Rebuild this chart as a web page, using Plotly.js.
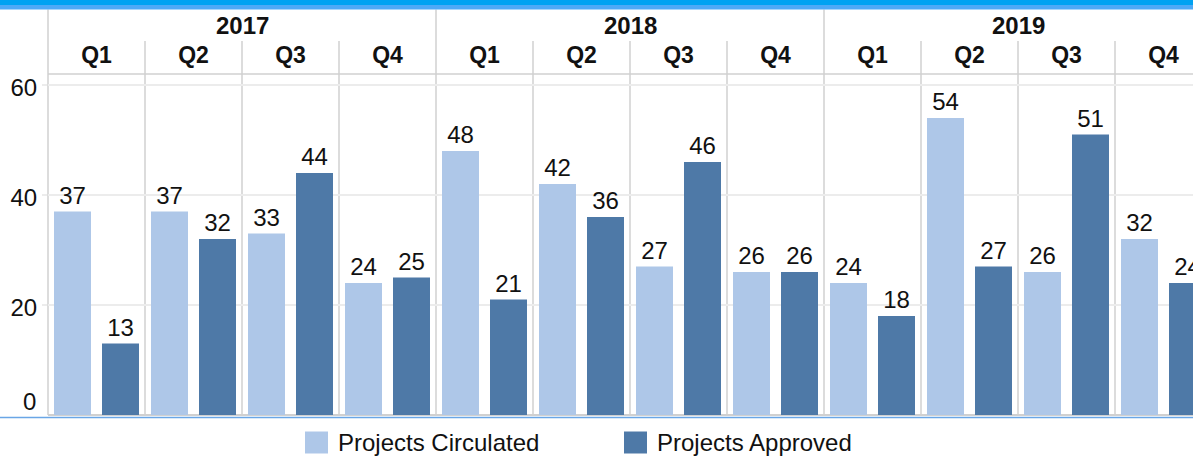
<!DOCTYPE html>
<html>
<head>
<meta charset="utf-8">
<script src="https://cdn.plot.ly/plotly-3.0.1.min.js"></script>
<style>
  html, body { margin: 0; padding: 0; overflow: hidden; background: #fff; }
  #chart { width: 1193px; height: 456px; }
</style>
</head>
<body>
<div id="chart"></div>
<script>
// ---- data ----
const years = ['2017', '2018', '2019'];
const quarters = ['Q1', 'Q2', 'Q3', 'Q4'];
const seriesNames = ['Projects Circulated', 'Projects Approved'];
const circulated = [37, 37, 33, 24, 48, 42, 27, 26, 24, 54, 26, 32];
const approved   = [13, 32, 44, 25, 21, 36, 46, 26, 18, 27, 51, 24];
const yTickVals = [0, 20, 40, 60];
const yTickText = ['0', '20', '40', '60'];

// ---- geometry ----
const W = 1193, H = 456;
const M = { l: 48, r: 0, t: 74, b: 41 };
const plotW = W - M.l - M.r, plotH = H - M.t - M.b;
const catPx = 97;                       // width of one quarter column
const px2x = px => (px - M.l) / plotW;   // pixel -> paper x
const px2y = py => (H - M.b - py) / plotH; // pixel -> paper y

const categories = [];
years.forEach(y => quarters.forEach(q => categories.push(y + ' ' + q)));
const qLabels = categories.map(c => c.split(' ')[1]);

const FONT = "'Liberation Sans', Arial, sans-serif";
const colCirc = '#aec7e8', colAppr = '#4e79a7';
const divColor = '#d0d0d0';

const traces = [
  { type: 'bar', name: seriesNames[0], x: categories, y: circulated,
    marker: { color: colCirc }, text: circulated.map(String), textposition: 'outside',
    constraintext: 'none', textfont: { family: FONT, size: 24, color: '#111' }, hoverinfo: 'x+y+name' },
  { type: 'bar', name: seriesNames[1], x: categories, y: approved,
    marker: { color: colAppr }, text: approved.map(String), textposition: 'outside',
    constraintext: 'none', textfont: { family: FONT, size: 24, color: '#111' }, hoverinfo: 'x+y+name' }
];

const shapes = [];
// top blue band
shapes.push({ type: 'rect', xref: 'paper', yref: 'paper', x0: px2x(0), x1: px2x(W), y0: px2y(5), y1: px2y(0),
  fillcolor: '#00a2f2', line: { width: 0 }, layer: 'above' });
shapes.push({ type: 'rect', xref: 'paper', yref: 'paper', x0: px2x(0), x1: px2x(W), y0: px2y(9.5), y1: px2y(5),
  fillcolor: '#4ea9f7', line: { width: 0 }, layer: 'above' });
// left border of the table
shapes.push({ type: 'line', xref: 'paper', yref: 'paper', x0: 0, x1: 0, y0: 0, y1: px2y(9.5),
  line: { color: divColor, width: 1.5 }, layer: 'below' });
// header bottom line
shapes.push({ type: 'line', xref: 'paper', yref: 'paper', x0: 0, x1: 1, y0: 1, y1: 1,
  line: { color: divColor, width: 1.5 }, layer: 'below' });
// column dividers
for (let i = 1; i <= categories.length; i++) {
  const isYear = i % quarters.length === 0;
  shapes.push({ type: 'line', xref: 'x', yref: 'paper', x0: i - 0.5, x1: i - 0.5, y0: 0,
    y1: isYear ? px2y(9.5) : px2y(41), line: { color: divColor, width: 1.5 }, layer: 'below' });
}
// bottom blue line
shapes.push({ type: 'line', xref: 'paper', yref: 'paper', x0: px2x(0), x1: px2x(W), y0: px2y(417.5), y1: px2y(417.5),
  line: { color: '#6aa6e6', width: 1.5 }, layer: 'above' });
// legend swatches
const legendItems = [
  { name: seriesNames[0], color: colCirc, sx0: 305, sx1: 328, tx: 336 },
  { name: seriesNames[1], color: colAppr, sx0: 624, sx1: 647, tx: 655 }
];
legendItems.forEach(it => {
  shapes.push({ type: 'rect', xref: 'paper', yref: 'paper', x0: px2x(it.sx0), x1: px2x(it.sx1),
    y0: px2y(453.5), y1: px2y(431.5), fillcolor: it.color, line: { width: 0 }, layer: 'above' });
});

const annotations = [];
years.forEach((y, i) => {
  annotations.push({ text: y, xref: 'x', yref: 'paper', x: i * quarters.length + (quarters.length - 1) / 2,
    y: px2y(26), xanchor: 'center', yanchor: 'middle', showarrow: false,
    font: { family: FONT, size: 24, color: '#111', weight: 'bold' } });
});
legendItems.forEach(it => {
  annotations.push({ text: it.name, xref: 'paper', yref: 'paper', x: px2x(it.tx), y: px2y(442.5),
    xanchor: 'left', yanchor: 'middle', showarrow: false,
    font: { family: FONT, size: 24, color: '#111' } });
});
// "0" tick label sits above the baseline
annotations.push({ text: yTickText[0], xref: 'paper', yref: 'y', x: px2x(38), y: yTickVals[0], yshift: 14,
  xanchor: 'right', yanchor: 'middle', showarrow: false, font: { family: FONT, size: 24, color: '#111' } });

const layout = {
  width: W, height: H,
  margin: M,
  paper_bgcolor: '#fff', plot_bgcolor: '#fff',
  font: { family: FONT, color: '#111' },
  showlegend: false,
  barmode: 'group',
  bargap: 0.0103,
  bargroupgap: 0.229,
  xaxis: {
    type: 'category', side: 'top',
    range: [-0.5, -0.5 + plotW / catPx],
    tickvals: categories, ticktext: qLabels,
    tickfont: { family: FONT, size: 23, color: '#111', weight: 'bold' },
    showgrid: false, zeroline: false, showline: false, ticks: '',
    ticklabelstandoff: 5,
    fixedrange: true
  },
  yaxis: {
    range: [0, 62],
    tickvals: yTickVals.slice(1), ticktext: yTickText.slice(1),
    tickfont: { family: FONT, size: 24, color: '#111' },
    showgrid: true, gridcolor: '#ececec', gridwidth: 1.5,
    zeroline: true, zerolinecolor: '#d0d0d0', zerolinewidth: 1.5,
    showline: false,
    ticks: 'outside', ticklen: 5, tickcolor: '#ececec', tickwidth: 1.5,
    ticklabelshift: 3,
    fixedrange: true
  },
  shapes: shapes,
  annotations: annotations
};

Plotly.newPlot('chart', traces, layout, { displayModeBar: false, staticPlot: true });
</script>
</body>
</html>
